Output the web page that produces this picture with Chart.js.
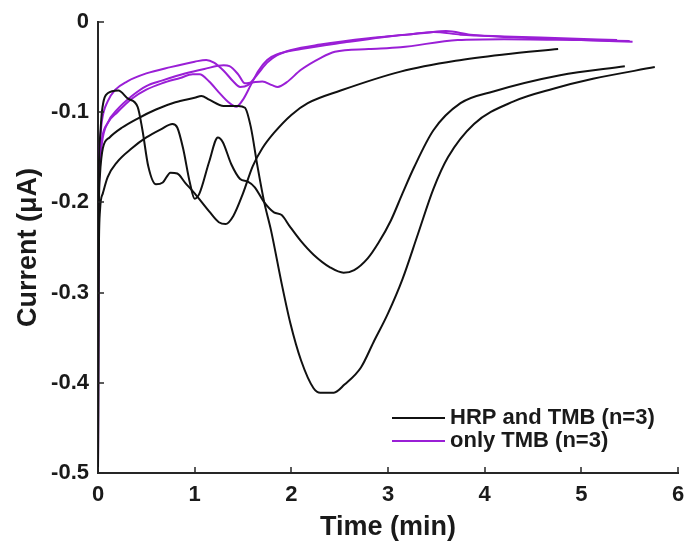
<!DOCTYPE html>
<html>
<head>
<meta charset="utf-8">
<script src="https://cdn.jsdelivr.net/npm/chart.js@4"></script>
<style>
  html, body { margin: 0; padding: 0; background: #fff; }
</style>
</head>
<body>
<canvas id="currentChart" width="686" height="544"></canvas>
<script>
// Time (min) and current (uA) for each run
const hrpRun1Time = [0, 0.005, 0.02, 0.04, 0.1, 0.21, 0.31, 0.41, 0.46, 0.52, 0.6, 0.67, 0.75, 0.82, 0.9, 1.0, 1.15, 1.25, 1.32, 1.4, 1.5, 1.6, 1.7, 1.82, 2.0, 2.17, 2.51, 3.13, 3.7, 4.2, 4.76];
const hrpRun1Curr = [-0.5, -0.2, -0.13, -0.1, -0.079, -0.076, -0.085, -0.094, -0.12, -0.16, -0.18, -0.178, -0.167, -0.168, -0.178, -0.19, -0.21, -0.222, -0.224, -0.215, -0.19, -0.16, -0.14, -0.123, -0.103, -0.09, -0.076, -0.055, -0.043, -0.036, -0.03];

const hrpRun2Time = [0, 0.005, 0.02, 0.05, 0.1, 0.2, 0.35, 0.5, 0.65, 0.77, 0.82, 0.88, 0.95, 1.0, 1.05, 1.15, 1.24, 1.29, 1.38, 1.47, 1.55, 1.62, 1.72, 1.82, 1.9, 1.98, 2.1, 2.23, 2.4, 2.54, 2.65, 2.79, 2.9, 3.03, 3.15, 3.27, 3.47, 3.75, 4.09, 4.78, 5.45];
const hrpRun2Curr = [-0.5, -0.3, -0.21, -0.19, -0.172, -0.155, -0.14, -0.128, -0.119, -0.113, -0.117, -0.14, -0.178, -0.196, -0.19, -0.155, -0.128, -0.133, -0.158, -0.174, -0.177, -0.183, -0.2, -0.211, -0.214, -0.226, -0.243, -0.258, -0.272, -0.278, -0.275, -0.262, -0.245, -0.22, -0.19, -0.161, -0.12, -0.09, -0.077, -0.059, -0.049];

const hrpRun3Time = [0, 0.005, 0.02, 0.05, 0.12, 0.25, 0.41, 0.6, 0.8, 1.0, 1.07, 1.15, 1.3, 1.45, 1.52, 1.58, 1.65, 1.72, 1.79, 1.9, 1.99, 2.1, 2.23, 2.3, 2.44, 2.55, 2.72, 2.85, 3.0, 3.15, 3.31, 3.47, 3.62, 3.89, 4.3, 4.71, 5.12, 5.76];
const hrpRun3Curr = [-0.5, -0.25, -0.17, -0.14, -0.128, -0.117, -0.107, -0.097, -0.089, -0.084, -0.082, -0.086, -0.093, -0.093, -0.095, -0.116, -0.16, -0.2, -0.231, -0.29, -0.334, -0.375, -0.406, -0.411, -0.411, -0.402, -0.383, -0.355, -0.323, -0.285, -0.235, -0.185, -0.15, -0.113, -0.088, -0.074, -0.063, -0.05];

const tmbRun1Time = [0, 0.004, 0.015, 0.04, 0.1, 0.18, 0.3, 0.5, 0.75, 1.0, 1.12, 1.2, 1.3, 1.4, 1.47, 1.55, 1.65, 1.75, 1.85, 2.0, 2.3, 2.8, 3.2, 3.47, 3.75, 4.2, 4.8, 5.37];
const tmbRun1Curr = [-0.5, -0.2, -0.14, -0.11, -0.088, -0.075, -0.066, -0.057, -0.05, -0.044, -0.042, -0.045, -0.054, -0.066, -0.072, -0.07, -0.058, -0.045, -0.037, -0.031, -0.025, -0.018, -0.014, -0.011, -0.014, -0.016, -0.018, -0.02];

const tmbRun2Time = [0, 0.004, 0.015, 0.04, 0.1, 0.2, 0.35, 0.5, 0.66, 0.9, 1.1, 1.3, 1.36, 1.45, 1.52, 1.6, 1.7, 1.8, 1.86, 1.95, 2.1, 2.3, 2.45, 2.8, 3.13, 3.72, 4.2, 5.0, 5.5];
const tmbRun2Curr = [-0.5, -0.26, -0.17, -0.135, -0.112, -0.097, -0.082, -0.071, -0.065, -0.057, -0.052, -0.048, -0.049, -0.058, -0.068, -0.067, -0.066, -0.07, -0.072, -0.067, -0.053, -0.04, -0.033, -0.03, -0.028, -0.02, -0.019, -0.02, -0.021];

const tmbRun3Time = [0, 0.004, 0.015, 0.04, 0.1, 0.2, 0.35, 0.5, 0.66, 0.85, 0.98, 1.05, 1.15, 1.25, 1.35, 1.43, 1.5, 1.58, 1.66, 1.75, 1.85, 2.1, 2.6, 3.0, 3.4, 3.6, 3.85, 4.3, 5.0, 5.53];
const tmbRun3Curr = [-0.5, -0.24, -0.16, -0.13, -0.112, -0.1, -0.085, -0.075, -0.068, -0.062, -0.058, -0.058, -0.066, -0.078, -0.089, -0.094, -0.086, -0.07, -0.054, -0.042, -0.036, -0.03, -0.022, -0.016, -0.012, -0.01, -0.014, -0.017, -0.02, -0.022];

const legendLabels = ['HRP and TMB (n=3)', 'only TMB (n=3)'];
const xTickValues = [0, 1, 2, 3, 4, 5, 6];
const yTickValues = [-0.5, -0.4, -0.3, -0.2, -0.1, 0];

const BLACK = '#111111';
const PURPLE = '#9a1fd6';
const AXIS = '#262626';
const FONT = '"Liberation Sans", Arial, Helvetica, sans-serif';

function curve(t, c) {
  return t.map((x, k) => ({ x: x, y: c[k] }));
}

function run(t, c, color) {
  return {
    data: curve(t, c),
    borderColor: color,
    borderWidth: 2,
    pointRadius: 0,
    fill: false,
    cubicInterpolationMode: 'monotone'
  };
}

// MATLAB-like ticks pointing into the plot
const inwardTicks = {
  id: 'inwardTicks',
  afterDatasetsDraw(chart) {
    const { ctx, chartArea, scales } = chart;
    ctx.save();
    ctx.strokeStyle = AXIS;
    ctx.lineWidth = 1.5;
    ctx.beginPath();
    xTickValues.forEach(v => {
      const px = Math.round(scales.x.getPixelForValue(v));
      ctx.moveTo(px, chartArea.bottom);
      ctx.lineTo(px, chartArea.bottom - 6);
    });
    yTickValues.forEach(v => {
      const py = Math.round(scales.y.getPixelForValue(v));
      ctx.moveTo(chartArea.left, py);
      ctx.lineTo(chartArea.left + 6, py);
    });
    ctx.stroke();
    ctx.restore();
  }
};

// legend sits inside the plot, lower right, no box
const innerLegend = {
  id: 'innerLegend',
  afterDraw(chart) {
    const { ctx, chartArea } = chart;
    const colors = [BLACK, PURPLE];
    const x0 = chartArea.right - 286;
    ctx.save();
    ctx.font = 'bold 22px ' + FONT;
    ctx.textBaseline = 'middle';
    ctx.fillStyle = '#1a1a1a';
    legendLabels.forEach((label, k) => {
      const y = chartArea.bottom - 55 + k * 23;
      ctx.strokeStyle = colors[k];
      ctx.lineWidth = 2;
      ctx.beginPath();
      ctx.moveTo(x0, y);
      ctx.lineTo(x0 + 53, y);
      ctx.stroke();
      ctx.fillText(label, x0 + 58, y);
    });
    ctx.restore();
  }
};

new Chart(document.getElementById('currentChart'), {
  type: 'line',
  data: {
    datasets: [
      run(hrpRun1Time, hrpRun1Curr, BLACK),
      run(hrpRun2Time, hrpRun2Curr, BLACK),
      run(hrpRun3Time, hrpRun3Curr, BLACK),
      run(tmbRun1Time, tmbRun1Curr, PURPLE),
      run(tmbRun2Time, tmbRun2Curr, PURPLE),
      run(tmbRun3Time, tmbRun3Curr, PURPLE)
    ]
  },
  options: {
    responsive: false,
    devicePixelRatio: 1,
    animation: false,
    layout: { padding: { left: 0, top: 22, right: 8, bottom: 0 } },
    plugins: {
      legend: { display: false },
      tooltip: { enabled: false }
    },
    scales: {
      x: {
        type: 'linear',
        min: 0,
        max: 6,
        afterFit: s => { s.height = 71; s.paddingLeft = 0; s.paddingRight = 0; },
        afterBuildTicks: s => { s.ticks = xTickValues.map(v => ({ value: v })); },
        grid: { drawOnChartArea: false, drawTicks: false },
        border: { display: true, color: AXIS, width: 2 },
        ticks: {
          padding: 9,
          color: '#1a1a1a',
          font: { family: FONT, size: 22, weight: 'bold' },
          callback: v => String(v)
        },
        title: {
          display: true,
          text: 'Time (min)',
          color: '#1a1a1a',
          font: { family: FONT, size: 27, weight: 'bold' },
          padding: { top: 0, bottom: 0 }
        }
      },
      y: {
        type: 'linear',
        min: -0.5,
        max: 0,
        afterFit: s => { s.width = 98; s.paddingTop = 0; s.paddingBottom = 0; },
        afterBuildTicks: s => { s.ticks = yTickValues.map(v => ({ value: v })); },
        grid: { drawOnChartArea: false, drawTicks: false },
        border: { display: true, color: AXIS, width: 2 },
        ticks: {
          padding: 9,
          color: '#1a1a1a',
          font: { family: FONT, size: 22, weight: 'bold' },
          callback: v => (Math.abs(v) < 1e-9 ? '0' : String(Math.round(v * 10) / 10))
        },
        title: {
          display: true,
          text: 'Current (μA)',
          color: '#1a1a1a',
          font: { family: FONT, size: 27, weight: 'bold' },
          padding: { top: 12, bottom: 0 }
        }
      }
    }
  },
  plugins: [inwardTicks, innerLegend]
});
</script>
</body>
</html>
